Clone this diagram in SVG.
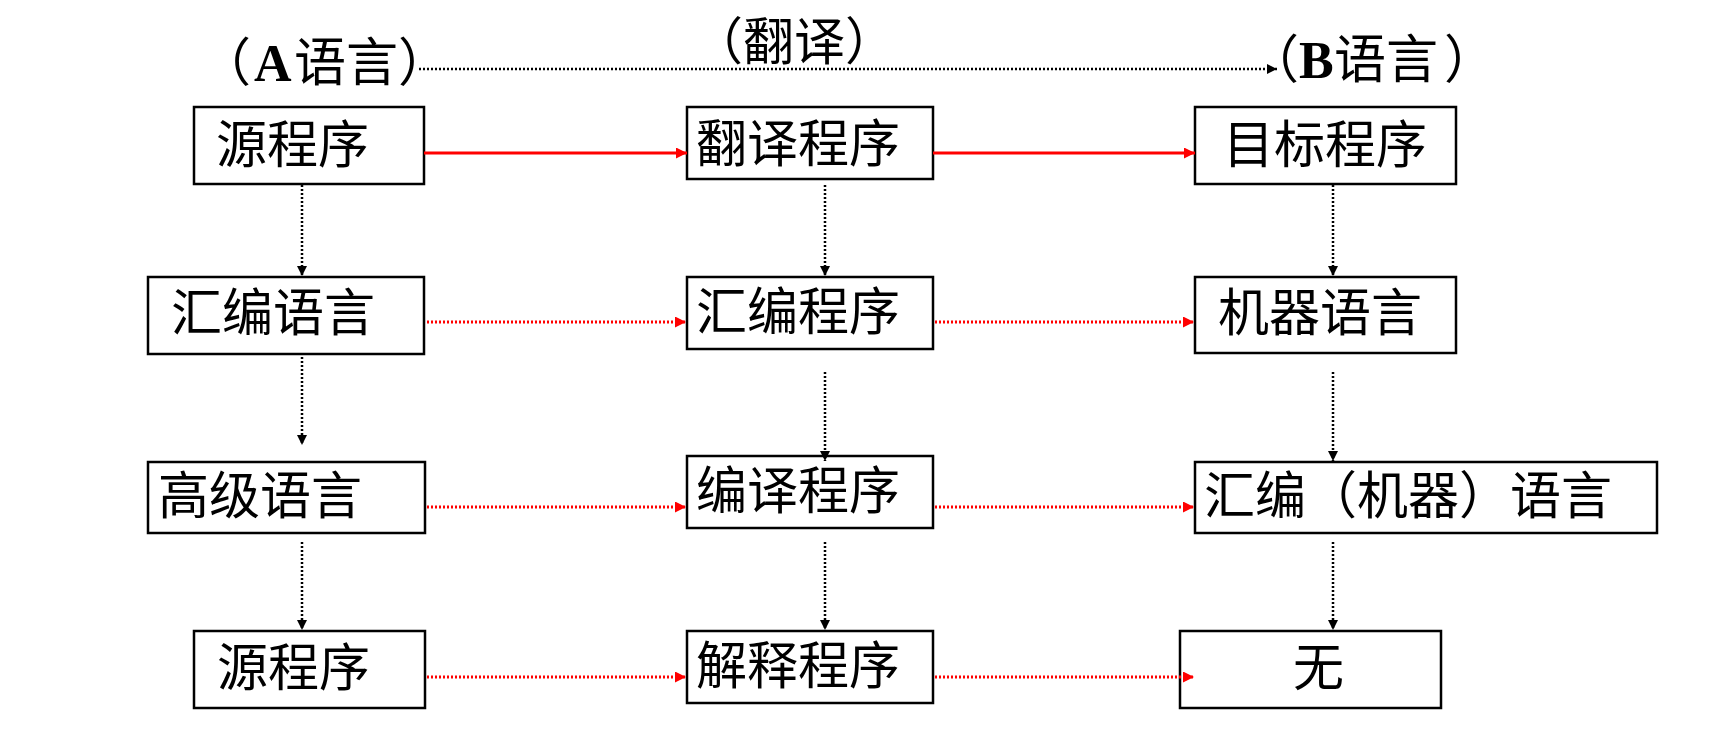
<svg xmlns="http://www.w3.org/2000/svg" width="1713" height="743" viewBox="0 0 1713 743">
<style>
.box{fill:#fff;stroke:#000;stroke-width:2.5}
.t{font-family:"Noto Sans CJK SC","Liberation Sans",sans-serif;font-size:51px;fill:#000}
.h{font-family:"Noto Sans CJK SC","Liberation Sans",sans-serif;font-size:52px;fill:#000}
.lat{font-family:"Liberation Serif","Times New Roman",serif;font-weight:bold}
.blk{fill:none;stroke:#000;stroke-width:2.5;stroke-dasharray:2 2}
.rs{fill:none;stroke:#f00;stroke-width:3}
.rd{fill:none;stroke:#f00;stroke-width:3;stroke-dasharray:2 2}
</style>
<defs>
<marker id="ab" markerUnits="userSpaceOnUse" markerWidth="10" markerHeight="10" refX="10" refY="5" orient="auto"><path d="M0,0 L10,5 L0,10 z" fill="#000"/></marker>
<marker id="ar" markerUnits="userSpaceOnUse" markerWidth="11" markerHeight="11" refX="11" refY="5.5" orient="auto"><path d="M0,0 L11,5.5 L0,11 z" fill="#f00"/></marker>
</defs>
<rect width="1713" height="743" fill="#fff"/>
<g id="headers">
<text class="h" y="81"><tspan x="199">（</tspan><tspan class="lat" x="254">A</tspan><tspan x="294">语言</tspan><tspan x="398">）</tspan></text>
<text class="h" y="60" style="font-size:51px"><tspan x="692">（翻译）</tspan></text>
<text class="h" y="78"><tspan x="1247">（</tspan><tspan class="lat" x="1299">B</tspan><tspan x="1334">语言</tspan><tspan x="1444">）</tspan></text>
</g>
<g id="n1"><rect class="box" x="194" y="107" width="230" height="77"/><text class="t" x="216" y="163">源程序</text></g>
<g id="n2"><rect class="box" x="687" y="107" width="246" height="72"/><text class="t" x="696" y="162">翻译程序</text></g>
<g id="n3"><rect class="box" x="1195" y="107" width="261" height="77"/><text class="t" x="1223" y="163">目标程序</text></g>
<g id="n4"><rect class="box" x="148" y="277" width="276" height="77"/><text class="t" x="171" y="331">汇编语言</text></g>
<g id="n5"><rect class="box" x="687" y="277" width="246" height="72"/><text class="t" x="696" y="330">汇编程序</text></g>
<g id="n6"><rect class="box" x="1195" y="277" width="261" height="76"/><text class="t" x="1218" y="331">机器语言</text></g>
<g id="n7"><rect class="box" x="148" y="462" width="277" height="71"/><text class="t" x="158" y="514">高级语言</text></g>
<g id="n8"><rect class="box" x="687" y="456" width="246" height="72"/><text class="t" x="696" y="509">编译程序</text></g>
<g id="n9"><rect class="box" x="1195" y="462" width="462" height="71"/><text class="t" x="1204" y="514">汇编（机器）语言</text></g>
<g id="n10"><rect class="box" x="194" y="631" width="231" height="77"/><text class="t" x="217" y="686">源程序</text></g>
<g id="n11"><rect class="box" x="687" y="631" width="246" height="72"/><text class="t" x="696" y="684">解释程序</text></g>
<g id="n12"><rect class="box" x="1180" y="631" width="261" height="77"/><text class="t" x="1293" y="686">无</text></g>
<g id="connectors">
<line class="blk" x1="419" y1="69" x2="1277" y2="69" marker-end="url(#ab)"/>
<line class="rs" x1="424" y1="153" x2="687" y2="153" marker-end="url(#ar)"/>
<line class="rs" x1="933" y1="153" x2="1195" y2="153" marker-end="url(#ar)"/>
<line class="rd" x1="427" y1="322" x2="686" y2="322" marker-end="url(#ar)"/>
<line class="rd" x1="935" y1="322" x2="1194" y2="322" marker-end="url(#ar)"/>
<line class="rd" x1="427" y1="507" x2="686" y2="507" marker-end="url(#ar)"/>
<line class="rd" x1="935" y1="507" x2="1194" y2="507" marker-end="url(#ar)"/>
<line class="rd" x1="427" y1="677" x2="686" y2="677" marker-end="url(#ar)"/>
<line class="rd" x1="935" y1="677" x2="1194" y2="677" marker-end="url(#ar)"/>
<line class="blk" x1="302" y1="185" x2="302" y2="276" marker-end="url(#ab)"/>
<line class="blk" x1="302" y1="357" x2="302" y2="445" marker-end="url(#ab)"/>
<line class="blk" x1="302" y1="542" x2="302" y2="630" marker-end="url(#ab)"/>
<line class="blk" x1="825" y1="185" x2="825" y2="276" marker-end="url(#ab)"/>
<line class="blk" x1="825" y1="372" x2="825" y2="461" marker-end="url(#ab)"/>
<line class="blk" x1="825" y1="542" x2="825" y2="630" marker-end="url(#ab)"/>
<line class="blk" x1="1333" y1="185" x2="1333" y2="276" marker-end="url(#ab)"/>
<line class="blk" x1="1333" y1="372" x2="1333" y2="461" marker-end="url(#ab)"/>
<line class="blk" x1="1333" y1="542" x2="1333" y2="630" marker-end="url(#ab)"/>
</g>
</svg>
